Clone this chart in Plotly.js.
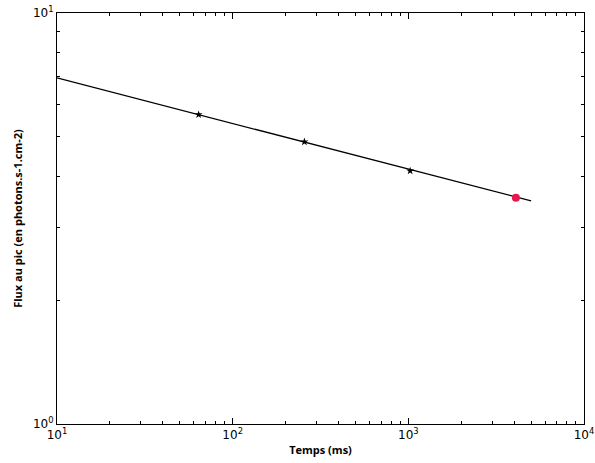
<!DOCTYPE html>
<html>
<head>
<meta charset="utf-8">
<script src="https://cdn.plot.ly/plotly-3.0.1.min.js"></script>
<style>html,body{margin:0;padding:0;background:#fff;}#chart{width:595px;height:463px;}</style>
</head>
<body>
<div id="chart"></div>
<script>
// Fitted line (ms, photons.s-1.cm-2)
const lineTimes = [10, 5000];
const lineFlux = [6.95, 3.49];
// Measured points
const pointTimes = [64, 256, 1024];
const pointFlux = [5.66, 4.86, 4.13];
// Highlighted point
const redTime = [4096];
const redFlux = [3.55];

const xTickVals = [10, 100, 1000, 10000];
const yTickVals = [1, 10];

function minorVals(lo, hi) {
  const v = [];
  for (let d = lo; d < hi; d *= 10) for (let k = 2; k <= 9; k++) v.push(d * k);
  return v;
}

const traces = [
  {x: lineTimes, y: lineFlux, mode: 'lines', line: {color: '#000', width: 1.3}, hoverinfo: 'skip'},
  {x: pointTimes, y: pointFlux, mode: 'markers', marker: {symbol: 'star', size: 6, color: '#000'}},
  {x: redTime, y: redFlux, mode: 'markers', marker: {symbol: 'circle', size: 8, color: '#e8174f'}}
];

const axisBase = {
  type: 'log', showgrid: false, zeroline: false, showline: true, mirror: 'ticks',
  linecolor: '#000', linewidth: 1, ticks: 'inside', ticklen: 6, tickcolor: '#000',
  tickmode: 'array', exponentformat: 'power',
  tickfont: {family: 'DejaVu Sans', size: 12, color: '#000'}
};

const layout = {
  width: 595, height: 463,
  margin: {l: 57, r: 11, t: 13, b: 39},
  paper_bgcolor: '#fff', plot_bgcolor: '#fff',
  showlegend: false,
  xaxis: Object.assign({}, axisBase, {
    range: [1, 4], tickvals: xTickVals, ticktext: ['10<sup>1</sup>', '10<sup>2</sup>', '10<sup>3</sup>', '10<sup>4</sup>'],
    minor: {tickmode: 'array', tickvals: minorVals(10, 10000), ticks: 'inside', ticklen: 3, tickcolor: '#000'},
    title: {text: '<b>Temps (ms)</b>', font: {family: 'Open Sans', size: 11, color: '#000'}, standoff: 4}
  }),
  yaxis: Object.assign({}, axisBase, {
    range: [0, 1], tickvals: yTickVals, ticktext: ['10<sup>0</sup>', '10<sup>1</sup>'],
    minor: {tickmode: 'array', tickvals: minorVals(1, 10), ticks: 'inside', ticklen: 3, tickcolor: '#000'},
    title: {text: '<b>Flux au pic (en photons.s-1.cm-2)</b>', font: {family: 'Open Sans', size: 11, color: '#000'}, standoff: 8}
  })
};

Plotly.newPlot('chart', traces, layout, {displayModeBar: false, staticPlot: true});
</script>
</body>
</html>
